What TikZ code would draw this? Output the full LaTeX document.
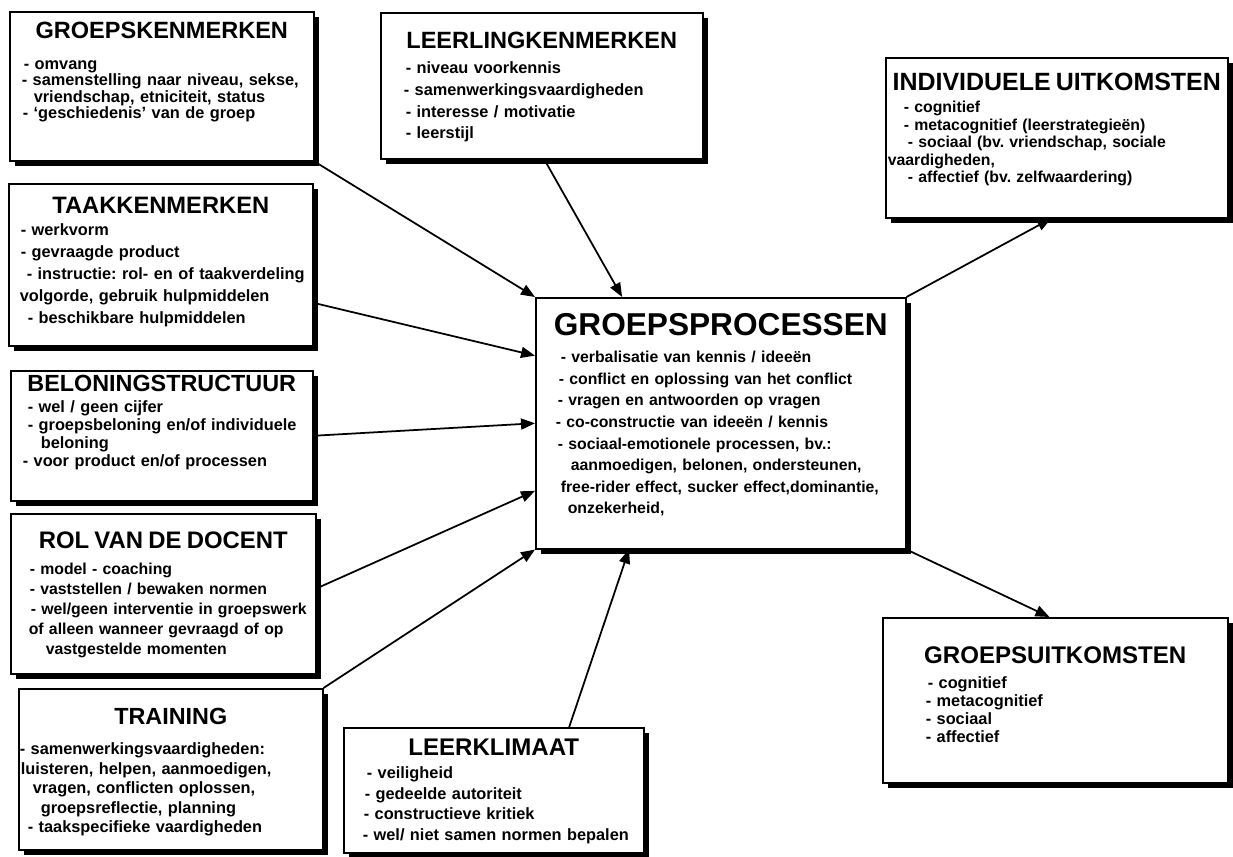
\documentclass[tikz,border=0pt]{standalone}
\usepackage{fontspec}
\setmainfont{Liberation Sans}
\usetikzlibrary{arrows.meta, shadows}
\frenchspacing
\hyphenpenalty=10000

% centred box heading
\newcommand{\boxtitle}[2]{\makebox[\linewidth]{\fontsize{#1}{#1}\selectfont #2}}

\begin{document}
\begin{tikzpicture}[
  x=0.02cm, y=-0.02cm,
  box/.style={draw, line width=0.9pt, fill=white, anchor=north west, inner sep=0pt,
              align=left,
              drop shadow={shadow xshift=0.1cm, shadow yshift=-0.1cm, fill=black, opacity=1}},
  arrow/.style={-{Triangle[length=0.28cm, width=0.22cm]}, line width=1pt}
]
\path[use as bounding box, fill=white] (0,0) rectangle (1233,857);

% input boxes, left column
\node[box, text width=6.08cm, text height=0.54cm, text depth=2.44cm,
      font=\bfseries\fontsize{9.3}{0.33cm}\selectfont] (gk) at (9,11) {%
  \boxtitle{13.4}{GROEPSKENMERKEN}\\[0.28cm]
  \hspace*{0.28cm}- omvang\\
  \hspace*{0.24cm}- samenstelling naar niveau, sekse,\\
  \hspace*{0.48cm}vriendschap, etniciteit, status\\
  \hspace*{0.26cm}- `geschiedenis' van de groep};

\node[box, text width=6.08cm, text height=0.6cm, text depth=2.64cm,
      font=\bfseries\fontsize{9.3}{0.44cm}\selectfont] (taak) at (8,183) {%
  \boxtitle{13.5}{TAAKKENMERKEN}\\
  \hspace*{0.24cm}- werkvorm\\
  \hspace*{0.24cm}- gevraagde product\\
  \hspace*{0.36cm}- instructie: rol- en of taakverdeling\\
  \hspace*{0.22cm}volgorde, gebruik hulpmiddelen\\
  \hspace*{0.38cm}- beschikbare hulpmiddelen};

\node[box, text width=6.04cm, text height=0.42cm, text depth=2.18cm,
      font=\bfseries\fontsize{9.3}{0.36cm}\selectfont] (bel) at (10,370) {%
  \boxtitle{13.3}{BELONINGSTRUCTUUR}\\[0.06cm]
  \hspace*{0.34cm}- wel / geen cijfer\\
  \hspace*{0.34cm}- groepsbeloning en/of individuele\\
  \hspace*{0.6cm}beloning\\
  \hspace*{0.24cm}- voor product en/of processen};

\node[box, text width=6.1cm, text height=0.7cm, text depth=2.5cm,
      font=\bfseries\fontsize{9}{0.4cm}\selectfont] (rol) at (10,513) {%
  \boxtitle{13.6}{ROL VAN DE DOCENT}\\[0.12cm]
  \hspace*{0.38cm}- model - coaching\\
  \hspace*{0.38cm}- vaststellen / bewaken normen\\
  \hspace*{0.4cm}- wel/geen interventie in groepswerk\\
  \hspace*{0.36cm}of alleen wanneer gevraagd of op\\
  \hspace*{0.7cm}vastgestelde momenten};

\node[box, text width=6.08cm, text height=0.72cm, text depth=2.5cm,
      font=\bfseries\fontsize{9.3}{0.39cm}\selectfont] (tr) at (18,688) {%
  \boxtitle{13.3}{TRAINING}\\[0.21cm]
  \hspace*{0.02cm}- samenwerkingsvaardigheden:\\
  \hspace*{0.04cm}luisteren, helpen, aanmoedigen,\\
  \hspace*{0.28cm}vragen, conflicten oplossen,\\
  \hspace*{0.44cm}groepsreflectie, planning\\
  \hspace*{0.18cm}- taakspecifieke vaardigheden};

% input boxes, top and bottom
\node[box, text width=6.44cm, text height=0.72cm, text depth=2.2cm,
      font=\bfseries\fontsize{9.3}{0.434cm}\selectfont] (ll) at (380,12) {%
  \boxtitle{13.4}{LEERLINGKENMERKEN}\\[0.066cm]
  \hspace*{0.5cm}- niveau voorkennis\\
  \hspace*{0.46cm}- samenwerkingsvaardigheden\\
  \hspace*{0.5cm}- interesse / motivatie\\
  \hspace*{0.5cm}- leerstijl};

\node[box, text width=6.0cm, text height=0.56cm, text depth=1.94cm,
      font=\bfseries\fontsize{9.3}{0.414cm}\selectfont] (lk) at (343,727) {%
  \boxtitle{13.7}{LEERKLIMAAT}\\[0.04cm]
  \hspace*{0.46cm}- veiligheid\\
  \hspace*{0.42cm}- gedeelde autoriteit\\
  \hspace*{0.4cm}- constructieve kritiek\\
  \hspace*{0.38cm}- wel/ niet samen normen bepalen};

% centre
\node[box, text width=7.4cm, text height=0.76cm, text depth=4.26cm,
      font=\bfseries\fontsize{9}{0.432cm}\selectfont] (gp) at (535,297) {%
  \boxtitle{18}{GROEPSPROCESSEN}\\[0.108cm]
  \hspace*{0.5cm}- verbalisatie van kennis / ideeën\\
  \hspace*{0.46cm}- conflict en oplossing van het conflict\\
  \hspace*{0.44cm}- vragen en antwoorden op vragen\\
  \hspace*{0.4cm}- co-constructie van ideeën / kennis\\
  \hspace*{0.44cm}- sociaal-emotionele processen, bv.:\\
  \hspace*{0.7cm}aanmoedigen, belonen, ondersteunen,\\
  \hspace*{0.5cm}free-rider effect, sucker effect,dominantie,\\
  \hspace*{0.64cm}onzekerheid,};

% outcomes
\node[box, text width=6.84cm, text height=0.66cm, text depth=2.54cm,
      font=\bfseries\fontsize{9}{0.35cm}\selectfont] (indiv) at (885,57) {%
  \boxtitle{14.2}{INDIVIDUELE UITKOMSTEN}\\[0.09cm]
  \hspace*{0.36cm}- cognitief\\
  \hspace*{0.36cm}- metacognitief (leerstrategieën)\\
  \hspace*{0.44cm}- sociaal (bv. vriendschap, sociale\\
  \hspace*{0.04cm}vaardigheden,\\
  \hspace*{0.44cm}- affectief (bv. zelfwaardering)};

\node[box, text width=6.9cm, text height=0.92cm, text depth=2.38cm,
      font=\bfseries\fontsize{9.3}{0.366cm}\selectfont] (gu) at (882,617) {%
  \boxtitle{13.7}{GROEPSUITKOMSTEN}\\[0.12cm]
  \hspace*{0.9cm}- cognitief\\
  \hspace*{0.86cm}- metacognitief\\
  \hspace*{0.86cm}- sociaal\\
  \hspace*{0.86cm}- affectief};

% connectors
\draw[arrow] (gk.south east) -- (gp.north west);
\draw[arrow] (ll.-88) -- (gp.128);
\draw[arrow] (taak.-14) -- (gp.160);
\draw[arrow] (bel.east) -- (gp.west);
\draw[arrow] (rol.2) -- (gp.200);
\draw[arrow] (tr.north east) -- (gp.south west);
\draw[arrow] (lk.40) -- (gp.234);
\draw[arrow] (gp.north east) -- (indiv.266);
\draw[arrow] (gp.south east) -- (gu.94);
\end{tikzpicture}
\end{document}
